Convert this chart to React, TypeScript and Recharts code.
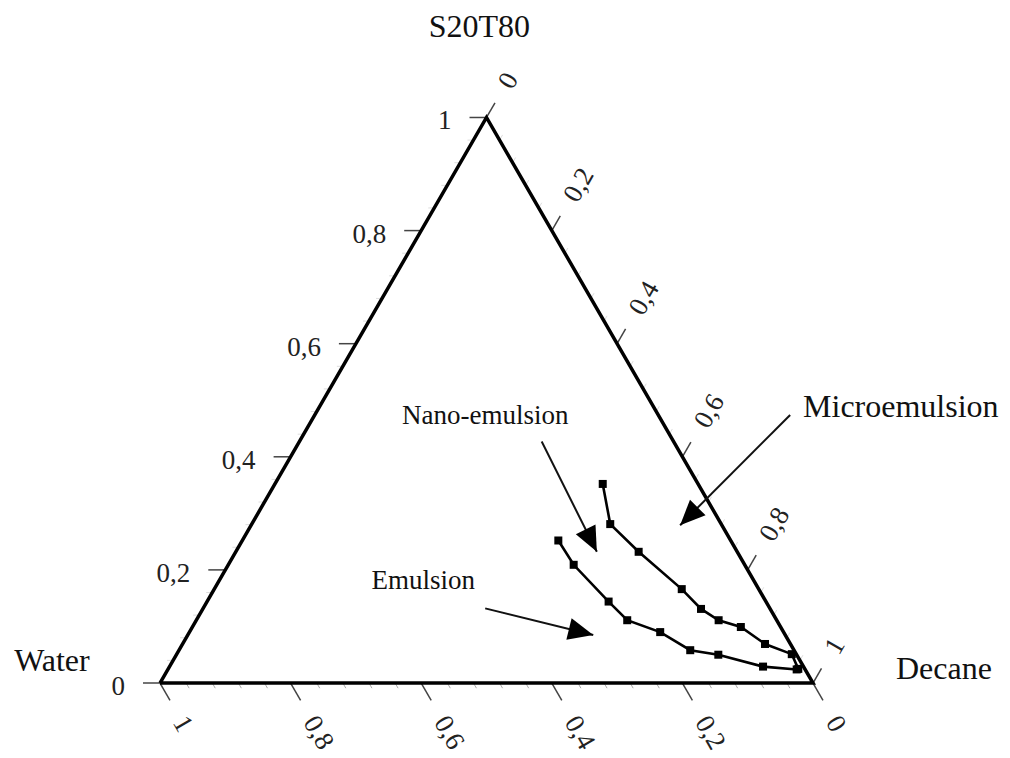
import { ScatterChart, Scatter, XAxis, YAxis } from 'recharts'

const SERIF = '"Liberation Serif", "Times New Roman", serif'
const H3 = Math.sqrt(3) / 2

// triangle placement: bottom-left vertex at (160, 683) px, side 653 px
const SIDE = 653
const LEFT = 160
const BASE = 683
const CW = 1010
const CH = 758

// axis ticks (mass fractions), decimal comma as in the source figure
const S_TICKS = [0, 0.2, 0.4, 0.6, 0.8, 1]
const S_LABELS = ['0', '0,2', '0,4', '0,6', '0,8', '1']
const D_TICKS = [0, 0.2, 0.4, 0.6, 0.8, 1]
const D_LABELS = ['0', '0,2', '0,4', '0,6', '0,8', '1']
const W_TICKS = [1, 0.8, 0.6, 0.4, 0.2, 0]
const W_LABELS = ['1', '0,8', '0,6', '0,4', '0,2', '0']
const MINOR = [0.04, 0.08, 0.12, 0.16, 0.24, 0.28, 0.32, 0.36, 0.44, 0.48, 0.52, 0.56, 0.64, 0.68, 0.72, 0.76, 0.84, 0.88, 0.92, 0.96]

// nano-emulsion / microemulsion boundary (S20T80 fraction, decane fraction)
const UPPER_S = [0.352, 0.281, 0.232, 0.166, 0.131, 0.111, 0.099, 0.069, 0.051, 0.025]
const UPPER_D = [0.502, 0.549, 0.617, 0.716, 0.763, 0.8, 0.84, 0.892, 0.942, 0.965]
// emulsion / nano-emulsion boundary
const LOWER_S = [0.252, 0.209, 0.144, 0.111, 0.09, 0.058, 0.05, 0.029, 0.024]
const LOWER_D = [0.484, 0.529, 0.615, 0.66, 0.721, 0.783, 0.83, 0.909, 0.963]

// region annotations: label, label anchor (S, D), arrow tail and tip (S, D)
const REGIONS = ['Nano-emulsion', 'Emulsion', 'Microemulsion']
const REGION_SIZE = [27, 27, 32]
const REGION_LABEL = [[0.474, 0.261], [0.182, 0.312], [0.489, 0.89]]
const ARROW_TAIL = [[0.427, 0.371], [0.132, 0.432], [0.474, 0.728]]
const ARROW_TIP = [[0.232, 0.553], [0.085, 0.621], [0.279, 0.657]]

const VERTEX_NAMES = ['S20T80', 'Water', 'Decane']
const VERTEX_LABEL = [[1.162, -0.092], [0.041, -0.186], [0.027, 1.187]]

const tern = (s: number, d: number) => ({ x: d + s / 2, y: s * H3 })

const triangle = [tern(0, 0), tern(0, 1), tern(1, 0), tern(0, 0)]
const upper = UPPER_S.map((s, i) => tern(s, UPPER_D[i]))
const lower = LOWER_S.map((s, i) => tern(s, LOWER_D[i]))

const leftAxis = S_TICKS.map((s, i) => ({ ...tern(s, 0), label: S_LABELS[i] }))
const rightAxis = D_TICKS.map((d, i) => ({ ...tern(1 - d, d), label: D_LABELS[i] }))
const bottomAxis = W_TICKS.map((w, i) => ({ ...tern(0, 1 - w), label: W_LABELS[i] }))
const minorBottom = MINOR.map(v => tern(0, v))
const minorLeft = MINOR.map(v => tern(v, 0))
const minorRight = MINOR.map(v => tern(1 - v, v))

const arrows = REGIONS.map((_, i) => {
  const a = tern(ARROW_TAIL[i][0], ARROW_TAIL[i][1])
  const b = tern(ARROW_TIP[i][0], ARROW_TIP[i][1])
  const ang = Math.atan2(-(b.y - a.y), b.x - a.x)
  return [{ ...a, head: false, ang }, { ...b, head: true, ang }]
})
const regionLabels = REGIONS.map((t, i) => ({ ...tern(REGION_LABEL[i][0], REGION_LABEL[i][1]), label: t, size: REGION_SIZE[i] }))
const vertexLabels = VERTEX_NAMES.map((t, i) => ({ ...tern(VERTEX_LABEL[i][0], VERTEX_LABEL[i][1]), label: t, size: 32 }))

const axisMark = (dx: number, dy: number, len: number, gap: number, rot: number, anchor: 'start' | 'end', shiftY = 0) =>
  (p: any) => {
    const { cx, cy, payload } = p
    const lx = cx + dx * gap
    const ly = cy + dy * gap + shiftY
    return (
      <g>
        <line x1={cx} y1={cy} x2={cx + dx * len} y2={cy + dy * len} stroke="#444" strokeWidth={1.5} />
        <text
          x={lx}
          y={ly}
          textAnchor={anchor}
          dominantBaseline="central"
          transform={rot ? `rotate(${rot}, ${lx}, ${ly})` : undefined}
          fontFamily={SERIF}
          fontSize={27}
          fill="#222"
        >
          {payload.label}
        </text>
      </g>
    )
  }

const minorMark = (dx: number, dy: number, color: string) => (p: any) => (
  <line x1={p.cx} y1={p.cy} x2={p.cx + dx * 6} y2={p.cy + dy * 6} stroke={color} strokeWidth={1} />
)

const textMark = (p: any) => (
  <text x={p.cx} y={p.cy} textAnchor="middle" dominantBaseline="central" fontFamily={SERIF} fontSize={p.payload.size} fill="#111">
    {p.payload.label}
  </text>
)

const square = (p: any) => <rect x={p.cx - 4} y={p.cy - 4} width={8} height={8} fill="#000" />

const arrowHead = (p: any) => {
  if (!p.payload.head) return <g />
  const { cx, cy } = p
  const ux = Math.cos(p.payload.ang)
  const uy = Math.sin(p.payload.ang)
  const L = 25
  const w = 11
  const bx = cx - ux * L
  const by = cy - uy * L
  const pts = `${cx},${cy} ${bx - uy * w},${by + ux * w} ${bx + uy * w},${by - ux * w}`
  return <polygon points={pts} fill="#000" />
}

const none = () => <g />

export default function App() {
  return (
    <div style={{ position: 'absolute', left: 0, top: 0, width: CW, height: CH, background: '#fff' }}>
      <ScatterChart width={CW} height={CH} margin={{ top: 0, right: 0, bottom: 0, left: 0 }}>
        <XAxis type="number" dataKey="x" hide allowDataOverflow domain={[-LEFT / SIDE, (CW - LEFT) / SIDE]} />
        <YAxis type="number" dataKey="y" hide allowDataOverflow domain={[-(CH - BASE) / SIDE, BASE / SIDE]} />

        <Scatter data={minorBottom} shape={minorMark(0.5, H3, '#aaa')} isAnimationActive={false} />
        <Scatter data={minorLeft} shape={minorMark(-1, 0, '#ddd')} isAnimationActive={false} />
        <Scatter data={minorRight} shape={minorMark(0.5, -H3, '#ddd')} isAnimationActive={false} />

        <Scatter data={leftAxis} shape={axisMark(-1, 0, 17, 35, 0, 'end', 3)} isAnimationActive={false} />
        <Scatter data={rightAxis} shape={axisMark(0.5, -H3, 17, 36, -60, 'start')} isAnimationActive={false} />
        <Scatter data={bottomAxis} shape={axisMark(0.5, H3, 20, 40, 60, 'start')} isAnimationActive={false} />

        <Scatter
          data={triangle}
          line={{ stroke: '#000', strokeWidth: 3.5 }}
          shape={none}
          fill="#000"
          isAnimationActive={false}
        />

        {arrows.map((a, i) => (
          <Scatter
            key={REGIONS[i]}
            data={a}
            line={{ stroke: '#111', strokeWidth: 2 }}
            shape={arrowHead}
            fill="#111"
            isAnimationActive={false}
          />
        ))}

        <Scatter data={upper} line={{ stroke: '#000', strokeWidth: 2.6 }} shape={square} fill="#000" isAnimationActive={false} />
        <Scatter data={lower} line={{ stroke: '#000', strokeWidth: 2.6 }} shape={square} fill="#000" isAnimationActive={false} />

        <Scatter data={regionLabels} shape={textMark} isAnimationActive={false} />
        <Scatter data={vertexLabels} shape={textMark} isAnimationActive={false} />
      </ScatterChart>
    </div>
  )
}
